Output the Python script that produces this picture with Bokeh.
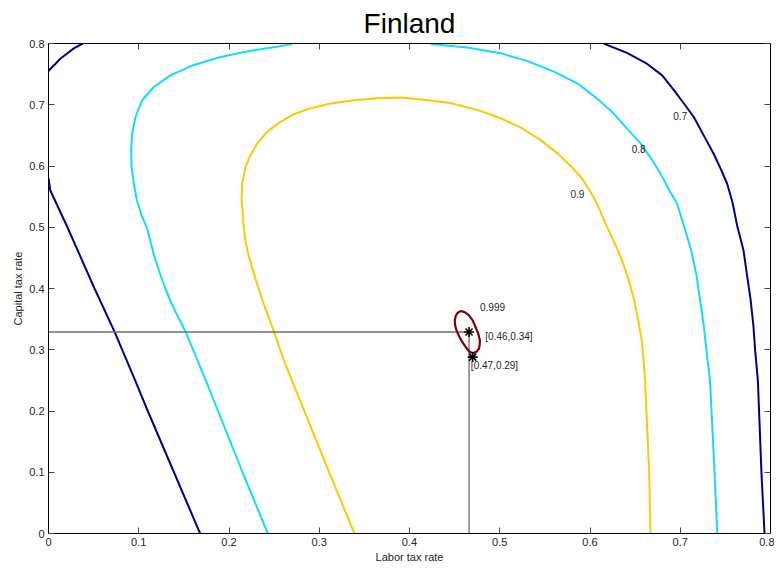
from bokeh.plotting import figure
from bokeh.models import LinearAxis, NumeralTickFormatter, FixedTicker, CustomJSTickFormatter
from bokeh.core.properties import value
from bokeh.embed import file_html
from bokeh.resources import INLINE

# ---- data ----
ticks = [0, 0.1, 0.2, 0.3, 0.4, 0.5, 0.6, 0.7, 0.8]

# 0.7 contour (three pieces)
c07a_x = [0.0, 0.002, 0.021, 0.051, 0.073, 0.096, 0.110, 0.139, 0.168]
c07a_y = [0.58, 0.56, 0.50, 0.40, 0.33, 0.25, 0.20, 0.10, 0.0]
c07b_x = [0.0, 0.003, 0.0078, 0.013, 0.021, 0.028, 0.038]
c07b_y = [0.755, 0.760, 0.767, 0.775, 0.784, 0.792, 0.80]
c07c_x = [0.615, 0.641, 0.663, 0.680, 0.693, 0.704, 0.715, 0.726, 0.737, 0.7446, 0.752, 0.758,
          0.763, 0.770, 0.774, 0.778, 0.781, 0.783, 0.786, 0.790, 0.7934]
c07c_y = [0.80, 0.7847, 0.767, 0.748, 0.724, 0.702, 0.680, 0.650, 0.620, 0.596, 0.571, 0.540,
          0.503, 0.463, 0.4217, 0.381, 0.340, 0.299, 0.250, 0.098, 0.0]

# 0.8 contour (two pieces)
c08a_x = [0.270, 0.2497, 0.224, 0.1906, 0.161, 0.135, 0.1167, 0.1038, 0.0964, 0.0927, 0.0916,
          0.092, 0.0945, 0.098, 0.103, 0.109, 0.1175, 0.1245, 0.1295, 0.135, 0.140, 0.152, 0.165,
          0.177, 0.215, 0.243]
c08a_y = [0.799, 0.794, 0.788, 0.778, 0.765, 0.748, 0.729, 0.7074, 0.680, 0.653, 0.626,
          0.5985, 0.5714, 0.544, 0.520, 0.499, 0.4516, 0.42, 0.400, 0.38, 0.3646, 0.329, 0.283,
          0.240, 0.10, 0.0]
c08b_x = [0.423, 0.464, 0.501, 0.530, 0.560, 0.5858, 0.608, 0.626, 0.641, 0.656, 0.669, 0.678,
          0.689, 0.696, 0.704, 0.712, 0.718, 0.722, 0.726, 0.729, 0.733, 0.738, 0.741]
c08b_y = [0.799, 0.7935, 0.784, 0.7716, 0.754, 0.735, 0.710, 0.686, 0.661, 0.637, 0.6095, 0.588,
          0.5577, 0.540, 0.503, 0.463, 0.4217, 0.381, 0.340, 0.299, 0.250, 0.10, 0.0]

# 0.9 contour
c09_x = [0.339, 0.311, 0.274, 0.2607, 0.250, 0.237, 0.2294, 0.222, 0.218, 0.216, 0.214,
         0.2146, 0.2183, 0.2238, 0.2312, 0.2423, 0.2552, 0.2718, 0.290, 0.3125, 0.3383, 0.364,
         0.390, 0.416, 0.445, 0.475, 0.501, 0.523, 0.545, 0.5637, 0.580, 0.592, 0.606,
         0.619, 0.634, 0.643, 0.649, 0.654, 0.658, 0.661, 0.6656, 0.667]
c09_y = [0.0, 0.10, 0.234, 0.283, 0.329, 0.381, 0.416, 0.452, 0.479, 0.506, 0.545,
         0.5714, 0.5985, 0.6177, 0.6367, 0.6557, 0.6704, 0.6846, 0.694, 0.702, 0.7074, 0.7107,
         0.7118, 0.708, 0.703, 0.6916, 0.678, 0.663, 0.6426, 0.621, 0.598, 0.578, 0.544,
         0.5006, 0.452, 0.4136, 0.381, 0.343, 0.310, 0.250, 0.10, 0.0]

# 0.999 contour
c999_x = [0.4565, 0.4615, 0.4657, 0.470, 0.4731, 0.4762, 0.478, 0.4778, 0.477, 0.4745, 0.4712,
          0.4683, 0.4657, 0.462, 0.4584, 0.455, 0.452, 0.4505, 0.4502, 0.4512, 0.4528, 0.4565]
c999_y = [0.3634, 0.3612, 0.3564, 0.348, 0.3373, 0.326, 0.3156, 0.308, 0.302, 0.297, 0.2949,
          0.2955, 0.298, 0.305, 0.3128, 0.322, 0.332, 0.340, 0.348, 0.355, 0.3592, 0.3634]

levels = ["0.7", "0.8", "0.9", "0.999"]
level_x = [0.700, 0.654, 0.586, 0.492]
level_y = [0.681, 0.627, 0.554, 0.370]

opt_x = [0.466, 0.470]
opt_y = [0.329, 0.288]
opt_labels = ["[0.46,0.34]", "[0.47,0.29]"]
opt_label_x = [0.484, 0.468]
opt_label_y = [0.322, 0.274]

FONT = "Liberation Sans"
DARKBLUE = "#00008c"
CYAN = "#13dbff"
YELLOW = "#ffc800"
DARKRED = "#800000"

p = figure(frame_width=722, frame_height=490, x_range=(0, 0.8), y_range=(0, 0.8),
           output_backend="svg", toolbar_location=None, title="Finland",
           min_border_left=48, min_border_top=35, min_border_right=4, min_border_bottom=30,
           x_axis_label="Labor tax rate", y_axis_label="Capital tax rate")
p.title.text_font = FONT
p.title.text_font_size = "28px"
p.title.text_font_style = "normal"
p.title.align = "center"
p.title.text_color = "black"
p.xgrid.visible = False
p.ygrid.visible = False
p.outline_line_color = "black"
p.background_fill_color = "white"

for ax in (p.xaxis[0], p.yaxis[0]):
    ax.ticker = FixedTicker(ticks=ticks)
    ax.formatter = NumeralTickFormatter(format="0.[0]")
    ax.major_tick_in = 6
    ax.major_tick_out = 0
    ax.minor_tick_line_color = None
    ax.major_tick_line_color = "#444444"
    ax.axis_line_color = "black"
    ax.major_label_text_font = FONT
    ax.major_label_text_font_size = "11px"
    ax.major_label_text_color = "#262626"
    ax.axis_label_text_font = FONT
    ax.axis_label_text_font_size = "11px"
    ax.axis_label_text_font_style = "normal"
    ax.axis_label_text_color = "#262626"
    ax.major_label_standoff = 4
    ax.axis_label_standoff = 2

for loc in ("above", "right"):
    ax = LinearAxis(ticker=FixedTicker(ticks=ticks), major_tick_in=6, major_tick_out=0,
                    minor_tick_line_color=None,
                    formatter=CustomJSTickFormatter(code="return ''"),
                    major_label_standoff=0, major_tick_line_color="#444444",
                    axis_line_color="black")
    p.add_layout(ax, loc)

lw = 2
p.line(c07a_x, c07a_y, line_color=DARKBLUE, line_width=lw)
p.line(c07b_x, c07b_y, line_color=DARKBLUE, line_width=lw)
p.line(c07c_x, c07c_y, line_color=DARKBLUE, line_width=lw)
p.line(c08a_x, c08a_y, line_color=CYAN, line_width=lw)
p.line(c08b_x, c08b_y, line_color=CYAN, line_width=lw)
p.line(c09_x, c09_y, line_color=YELLOW, line_width=lw)

# reference lines to optimum
p.line([0, opt_x[0]], [opt_y[0], opt_y[0]], line_color="#6e6e6e", line_width=1.3)
p.line([opt_x[0], opt_x[0]], [0, opt_y[0]], line_color="#6e6e6e", line_width=1.3)

p.line(c999_x, c999_y, line_color=DARKRED, line_width=2.2)

p.scatter(opt_x, opt_y, marker="asterisk", size=10, line_color="black", line_width=1.6)

p.text(level_x, level_y, text=levels, text_font=value(FONT), text_font_size="10px",
       text_color="#262626", text_align="center", text_baseline="middle")
p.text(opt_label_x, opt_label_y, text=opt_labels, text_font=value(FONT), text_font_size="10px",
       text_color="#262626", text_align="left", text_baseline="middle")

open("out.html", "w").write(file_html(p, INLINE))
